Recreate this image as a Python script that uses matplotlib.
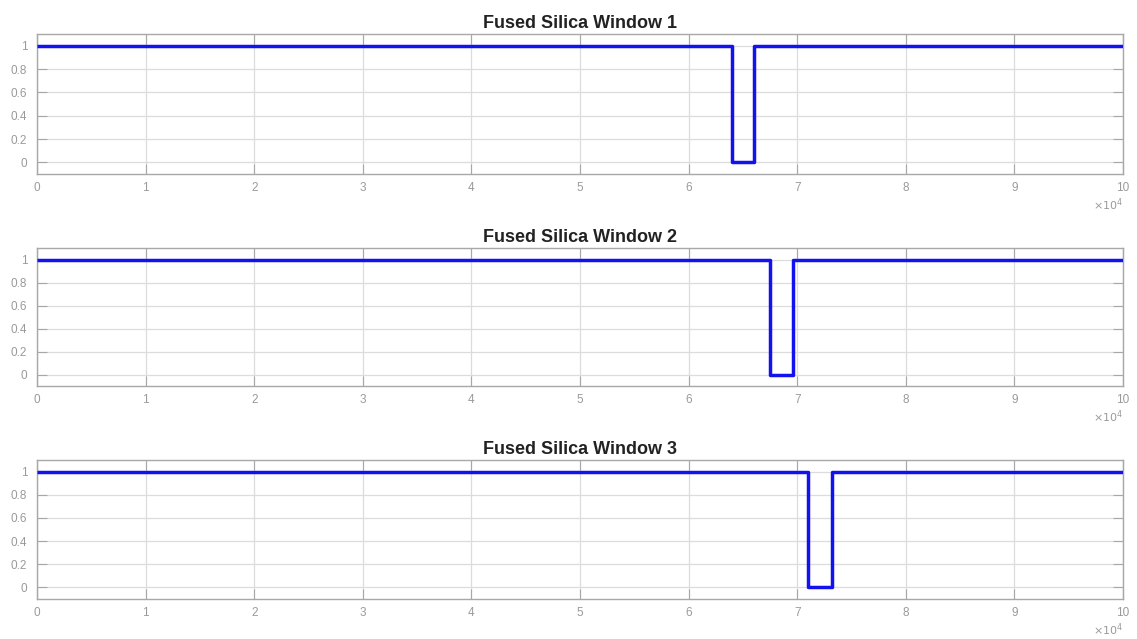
import matplotlib
matplotlib.use("Agg")
import matplotlib.pyplot as plt
import numpy as np

plt.rcParams['font.family'] = ['Liberation Sans', 'DejaVu Sans']

# Transmission windows: signal is 1 except inside each window's span
titles = ["Fused Silica Window 1", "Fused Silica Window 2", "Fused Silica Window 3"]
window_start = [64000, 67500, 71000]
window_end = [66000, 69600, 73200]
x_min, x_max = 0, 100000
level_on, level_off = 1, 0

x_ticks = [0, 1, 2, 3, 4, 5, 6, 7, 8, 9, 10]
y_ticks = [0, 0.2, 0.4, 0.6, 0.8, 1]
y_tick_labels = ["0", "0.2", "0.4", "0.6", "0.8", "1"]

W, H = 1137, 639
fig = plt.figure(figsize=(W / 100, H / 100), dpi=100)

# axes boxes in pixels: (top, bottom)
boxes = [(34, 174), (248, 386), (460, 599)]
left_px, right_px = 37, 1123

tick_col = "#9a9a9a"
spine_col = "#a8a8a8"
grid_col = "#dcdcdc"

for (top, bot), title, s, e in zip(boxes, titles, window_start, window_end):
    ax = fig.add_axes([left_px / W, (H - bot) / H, (right_px - left_px) / W, (bot - top) / H])
    xs = np.array([x_min, s, s, e, e, x_max]) / 1e4
    ys = np.array([level_on, level_on, level_off, level_off, level_on, level_on])
    ax.plot(xs, ys, color="#1212ee", lw=2.5, solid_joinstyle="round", solid_capstyle="butt", zorder=3)
    ax.set_xlim(0, 10)
    ax.set_ylim(-0.1, 1.1)
    ax.set_xticks(x_ticks)
    ax.set_xticklabels([str(t) for t in x_ticks])
    ax.set_yticks(y_ticks)
    ax.set_yticklabels(y_tick_labels)
    ax.grid(True, color=grid_col, lw=0.9)
    ax.set_axisbelow(True)
    ax.tick_params(direction="in", length=7, width=0.8, color=spine_col, labelcolor=tick_col,
                   labelsize=8.5, top=True, right=True, pad=6)
    ax.tick_params(axis="y", pad=7)
    for sp in ax.spines.values():
        sp.set_color(spine_col)
        sp.set_linewidth(1.0)
    ax.set_title(title, fontsize=13, fontweight="bold", color="#222222", pad=4)
    ax.annotate(r"$\times10^4$", xy=(1, 0), xycoords="axes fraction", xytext=(0, -31),
                textcoords="offset pixels", ha="right", va="center", fontsize=8, color=tick_col)

fig.savefig("out.png", dpi=100)
